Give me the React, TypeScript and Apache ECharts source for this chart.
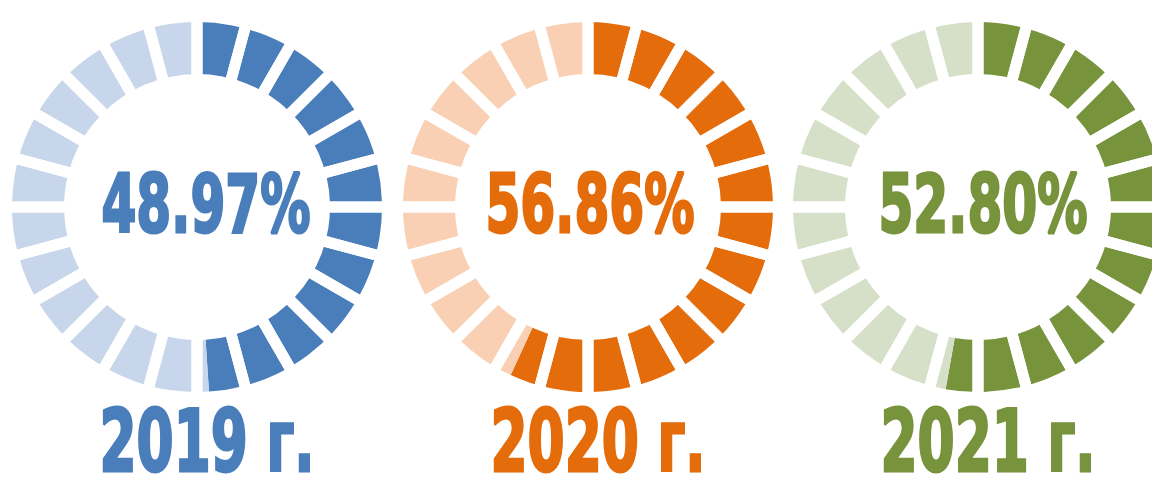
import React, { useEffect, useRef } from "react";
import * as echarts from "echarts";

const YEARS = ["2019 г.", "2020 г.", "2021 г."];
const VALUES = [48.97, 56.86, 52.8];
const SEGMENTS = 24;
const DARK = ["#4A7EBB", "#E46C0A", "#77933C"];
const LIGHT = ["#C7D6EA", "#F9D0B3", "#D6E0C8"];

const CENTERS_X = [197, 588, 978];
const CENTER_Y = 207;
const R_IN = 133;
const R_OUT = 185;
const PCT_X = [206, 590, 983];
const YEAR_X = [207, 598, 988];
const FONT = "'DejaVu Sans', sans-serif";

export default function App() {
  const ref = useRef<HTMLDivElement>(null);
  useEffect(() => {
    document.body.style.margin = "0";
    if (!ref.current) return;
    const chart = echarts.init(ref.current, undefined, { renderer: "svg" });
    const series: any[] = [];
    const graphic: any[] = [];
    VALUES.forEach((v, i) => {
      series.push({
        type: "pie",
        center: [CENTERS_X[i], CENTER_Y],
        radius: [R_IN, R_OUT],
        startAngle: 90,
        clockwise: true,
        silent: true,
        label: { show: false },
        labelLine: { show: false },
        data: [
          { name: YEARS[i] + " value", value: v, itemStyle: { color: DARK[i] } },
          { name: YEARS[i] + " rest", value: 100 - v, itemStyle: { color: LIGHT[i] } },
        ],
      });
      series.push({
        type: "pie",
        center: [CENTERS_X[i], CENTER_Y],
        radius: [R_IN - 12, R_OUT + 8],
        startAngle: 90,
        silent: true,
        z: 3,
        label: { show: false },
        labelLine: { show: false },
        itemStyle: { color: "rgba(0,0,0,0)", borderColor: "#ffffff", borderWidth: 11 },
        data: Array.from({ length: SEGMENTS }, (_, k) => ({ name: "seg" + k, value: 1 })),
      });
      graphic.push({
        type: "text",
        x: PCT_X[i],
        y: 204,
        scaleX: 0.62,
        z: 10,
        style: {
          text: v.toFixed(2) + "%",
          fill: DARK[i],
          stroke: DARK[i],
          lineWidth: 3,
          font: `bold 81px ${FONT}`,
          textAlign: "center",
          textVerticalAlign: "middle",
        },
      });
      graphic.push({
        type: "text",
        x: YEAR_X[i],
        y: 442,
        scaleX: 0.62,
        z: 10,
        style: {
          text: YEARS[i],
          fill: DARK[i],
          stroke: DARK[i],
          lineWidth: 3,
          font: `bold 86px ${FONT}`,
          textAlign: "center",
          textVerticalAlign: "middle",
        },
      });
    });
    chart.setOption({
      animation: false,
      backgroundColor: "#ffffff",
      series,
      graphic,
    });
    return () => chart.dispose();
  }, []);
  return <div ref={ref} style={{ width: 1152, height: 477 }} />;
}
